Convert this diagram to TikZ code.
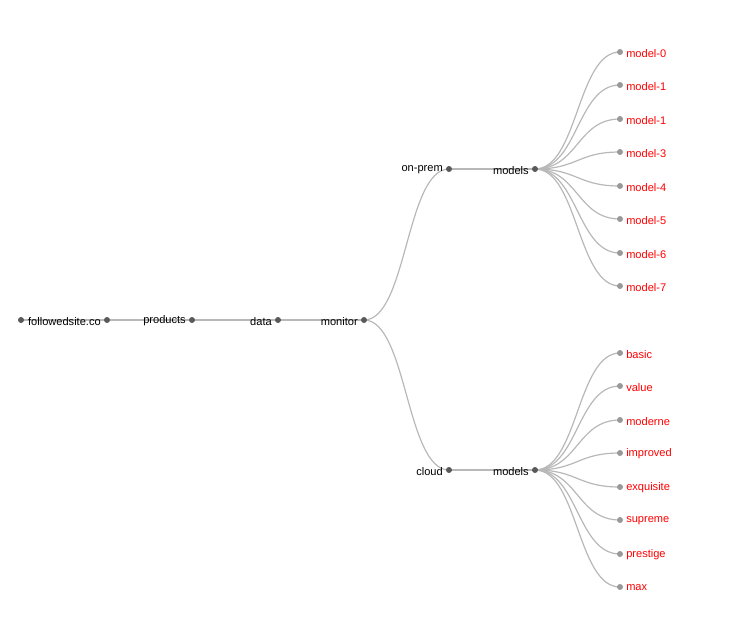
\documentclass[tikz,border=0pt]{standalone}
\usepackage{fontspec}
\setmainfont{Liberation Sans}
\begin{document}
\begin{tikzpicture}[x=0.75pt,y=-0.75pt,
  idot/.style={circle,fill=black!65,inner sep=0pt,minimum size=4.5pt},
  ldot/.style={circle,fill=black!40,inner sep=0pt,minimum size=4.5pt},
  link/.style={draw=black!28,line width=0.9pt},
  ilab/.style={font=\fontsize{8.3pt}{10pt}\selectfont,text=black,inner sep=1.5pt},
  llab/.style={font=\fontsize{8.3pt}{10pt}\selectfont,text=red,inner sep=1.5pt}]
\useasboundingbox (0,0) rectangle (736,640);
\coordinate (r) at (21,320);
\coordinate (f) at (107,320);
\coordinate (p) at (192,320);
\coordinate (d) at (278,320);
\coordinate (m) at (364,320);
\coordinate (o) at (449,169);
\coordinate (c) at (449,470);
\coordinate (mo) at (535,169);
\coordinate (mc) at (535,470);
\foreach \i/\y in {0/52,1/85,2/119,3/152,4/186,5/219,6/253,7/286}{\coordinate (a\i) at (620,\y);}
\foreach \i/\y in {0/353,1/386,2/420,3/453,4/487,5/520,6/554,7/587}{\coordinate (b\i) at (620,\y);}
\draw[link] (r) -- (f) -- (p) -- (d) -- (m);
\draw[link] (m) .. controls +(43,0) and +(-43,0) .. (o);
\draw[link] (m) .. controls +(43,0) and +(-43,0) .. (c);
\draw[link] (o) -- (mo);
\draw[link] (c) -- (mc);
\foreach \i in {0,...,7}{
  \draw[link] (mo) .. controls +(43,0) and +(-43,0) .. (a\i);
  \draw[link] (mc) .. controls +(43,0) and +(-43,0) .. (b\i);
}
\foreach \n in {r,f,p,d,m,o,c,mo,mc}{\node[idot] (dot\n) at (\n) {};}
\foreach \i in {0,...,7}{\node[ldot] (dota\i) at (a\i) {}; \node[ldot] (dotb\i) at (b\i) {};}
\node[ilab,anchor=east] (lf) at ([xshift=-3pt,yshift=-0.8pt]f) {followedsite.co};
\node[ilab,anchor=east] (lp) at ([xshift=-3pt,yshift=-0.8pt]p) {products};
\node[ilab,anchor=east] (ld) at ([xshift=-3pt,yshift=-0.8pt]d) {data};
\node[ilab,anchor=east] (lm) at ([xshift=-3pt,yshift=-0.8pt]m) {monitor};
\node[ilab,anchor=east] (lo) at ([xshift=-3pt,yshift=-0.8pt]o) {on-prem};
\node[ilab,anchor=east] (lc) at ([xshift=-3pt,yshift=-0.8pt]c) {cloud};
\node[ilab,anchor=east] (lmo) at ([xshift=-3pt,yshift=-0.8pt]mo) {models};
\node[ilab,anchor=east] (lmc) at ([xshift=-3pt,yshift=-0.8pt]mc) {models};
\foreach \i/\t in {0/model-0,1/model-1,2/model-1,3/model-3,4/model-4,5/model-5,6/model-6,7/model-7}{
  \node[llab,anchor=west] (la\i) at ([xshift=3pt,yshift=-0.8pt]a\i) {\t};}
\foreach \i/\t in {0/basic,1/value,2/moderne,3/improved,4/exquisite,5/supreme,6/prestige,7/max}{
  \node[llab,anchor=west] (lb\i) at ([xshift=3pt,yshift=-0.8pt]b\i) {\t};}
\end{tikzpicture}
\end{document}
